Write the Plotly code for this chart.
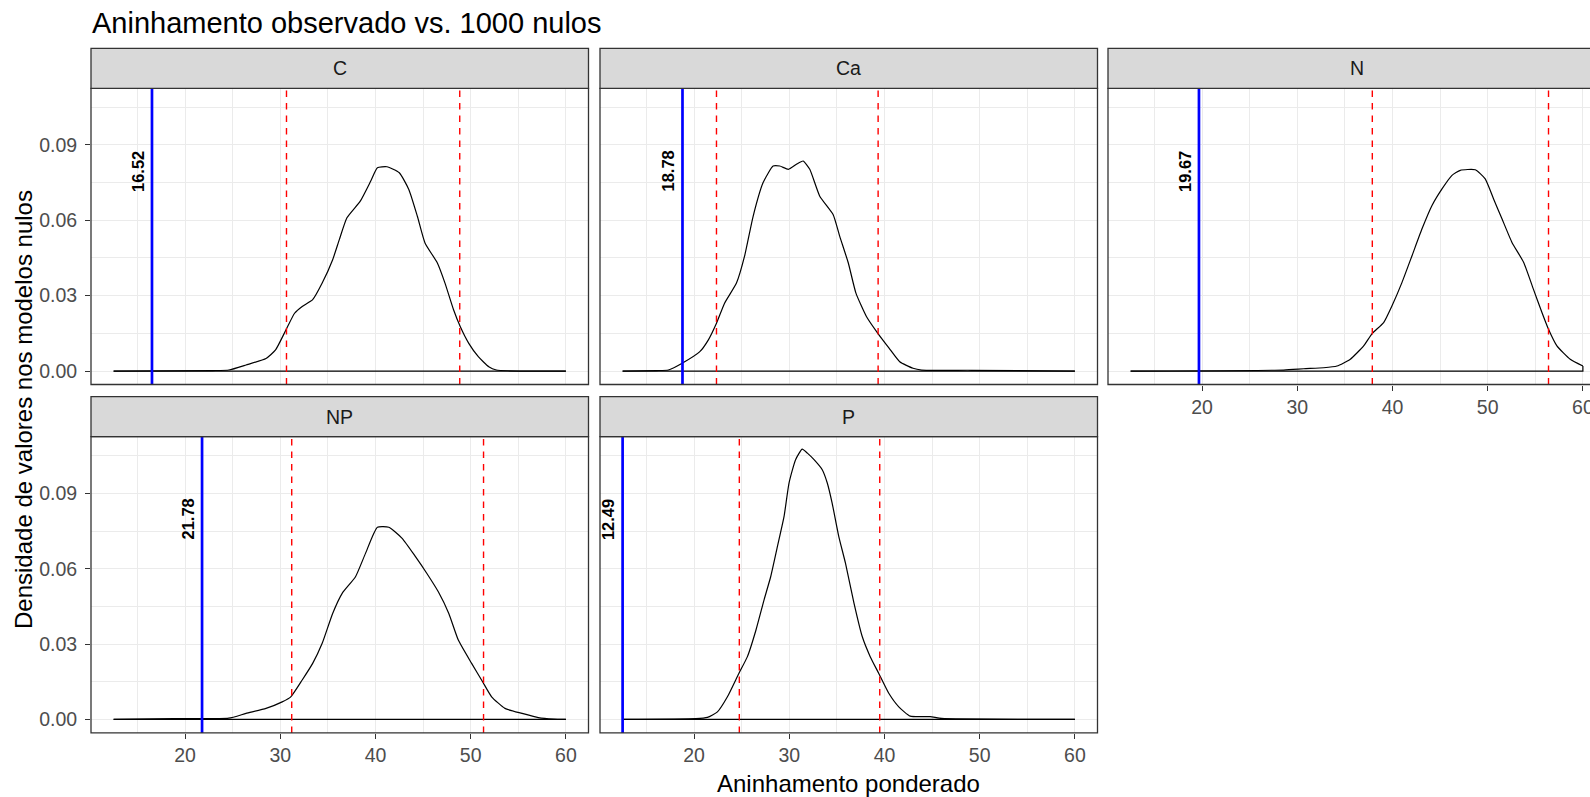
import plotly.graph_objects as go

# ---------------- data ----------------
panels = ["C", "Ca", "N", "NP", "P"]

C_x = [12.49, 22.9, 24.6, 26.4, 28.5, 29.5, 30.6, 31.5, 32.3, 33.4, 34.4, 35.5, 36.2, 37.0, 38.4, 39.5,
       40.2, 41.2, 42.5, 43.5, 44.4, 45.2, 46.5, 47.3, 48.2, 48.9, 49.8, 50.8, 51.9, 52.7, 54.0, 60.0]
C_y = [0, 0.0002, 0.0004, 0.0024, 0.005, 0.0084, 0.0164, 0.023, 0.0257, 0.0284, 0.035, 0.0443, 0.0523,
       0.061, 0.0676, 0.0756, 0.0809, 0.0813, 0.0789, 0.0723, 0.0616, 0.051, 0.043, 0.035, 0.0244, 0.0177,
       0.011, 0.0057, 0.0017, 0.0004, 0.0001, 0]

Ca_x = [12.49, 16.05, 17.3, 18.7, 20.6, 21.5, 22.35, 23.2, 24.45, 25.3, 26.2, 27.25, 28.3, 29.0, 29.9,
        30.75, 31.45, 32.15, 33.2, 34.6, 35.3, 36.2, 37.0, 38.1, 39.3, 40.5, 41.6, 43.0, 43.9, 49.1, 60.0]
Ca_y = [0, 0.0002, 0.0004, 0.003, 0.0077, 0.0124, 0.019, 0.027, 0.035, 0.0457, 0.0616, 0.075, 0.0816,
        0.0816, 0.0803, 0.0823, 0.0836, 0.0803, 0.0696, 0.0623, 0.0536, 0.043, 0.031, 0.0217, 0.015, 0.009,
        0.0037, 0.0011, 0.0004, 0.0003, 0]

N_x = [12.49, 28.57, 30.67, 32.77, 34.17, 35.57, 36.97, 37.88, 39.07, 39.95, 41.0, 42.05, 43.1, 44.15,
       45.2, 46.25, 47.12, 48.7, 49.74, 50.62, 51.5, 52.55, 53.77, 54.8, 55.7, 56.39, 57.27, 58.67, 60.0]
N_y = [0, 0.0004, 0.0009, 0.0013, 0.002, 0.0047, 0.01, 0.015, 0.0193, 0.026, 0.0353, 0.0459, 0.0566,
       0.0659, 0.0725, 0.0779, 0.0799, 0.0801, 0.0765, 0.0685, 0.0606, 0.0512, 0.0433, 0.0326, 0.0233,
       0.0166, 0.01, 0.0047, 0.002]

NP_x = [12.49, 18.8, 24.58, 26.4, 28.5, 30.2, 31.1, 32.3, 33.4, 34.4, 35.5, 36.5, 37.9, 38.95, 40.2,
        41.4, 42.8, 44.2, 45.4, 46.6, 47.7, 48.7, 50.1, 51.25, 52.2, 53.6, 55.4, 57.1, 58.7, 60.0]
NP_y = [0, 0.0003, 0.0005, 0.0024, 0.0044, 0.007, 0.009, 0.0157, 0.0223, 0.0303, 0.0422, 0.0502, 0.0568,
        0.0661, 0.0765, 0.0765, 0.0721, 0.0648, 0.0581, 0.0508, 0.0422, 0.0316, 0.0223, 0.015, 0.009,
        0.0044, 0.0024, 0.0007, 0.0001, 0]

P_x = [12.49, 20.17, 21.4, 22.45, 23.5, 24.7, 25.6, 26.5, 27.35, 28.05, 28.75, 29.45, 29.97, 30.66,
       31.36, 31.9, 32.6, 33.46, 33.99, 34.5, 35.2, 35.9, 36.8, 37.66, 38.5, 39.4, 40.45, 41.5, 42.7,
       44.8, 46.0, 60.0]
P_y = [0, 0.0003, 0.0008, 0.003, 0.009, 0.0183, 0.025, 0.0356, 0.0476, 0.0569, 0.0688, 0.0808, 0.0941,
       0.1034, 0.1076, 0.106, 0.1034, 0.0994, 0.0941, 0.0861, 0.0728, 0.0622, 0.0462, 0.033, 0.025, 0.0183,
       0.0104, 0.005, 0.0013, 0.0011, 0.0004, 0]

observed = [16.52, 18.78, 19.67, 21.78, 12.49]
null_lo = [30.65, 22.35, 37.88, 31.2, 24.75]
null_hi = [48.85, 39.33, 56.39, 51.35, 39.5]

x_ticks = [20, 30, 40, 50, 60]
y_ticks = [0.0, 0.03, 0.06, 0.09]
y_tick_text = ["0.00", "0.03", "0.06", "0.09"]

curves_x = [C_x, Ca_x, N_x, NP_x, P_x]
curves_y = [C_y, Ca_y, N_y, NP_y, P_y]

title_text = "Aninhamento observado vs. 1000 nulos"
x_title = "Aninhamento ponderado"
y_title = "Densidade de valores nos modelos nulos"

# ---------------- layout geometry (pixels) ----------------
W, H = 1590, 797
FONT = "Liberation Sans, Arial, sans-serif"
cols_px = [(91.0, 588.5), (600.0, 1097.5), (1108.0, 1605.5)]
rows_plot_px = [(88.3, 384.5), (436.7, 732.9)]
rows_strip_px = [(48.3, 88.3), (396.7, 436.7)]
pos = [(0, 0), (0, 1), (0, 2), (1, 0), (1, 1)]

XMIN, XMAX = 10.1145, 62.3755
YMIN, YMAX = -0.00536, 0.11254

fig = go.Figure()

def fx(p):
    return p / W

def fy(p):
    return 1 - p / H

for i, name in enumerate(panels):
    r, c = pos[i]
    n = i + 1
    xa = "xaxis" if n == 1 else f"xaxis{n}"
    ya = "yaxis" if n == 1 else f"yaxis{n}"
    xref = "x" if n == 1 else f"x{n}"
    yref = "y" if n == 1 else f"y{n}"
    left, right = cols_px[c]
    top, bottom = rows_plot_px[r]
    xr1 = XMAX
    dom_r = right
    if right > W:
        dom_r = W
        xr1 = XMIN + (W - left) / (right - left) * (XMAX - XMIN)
    show_x = (r == 1) or (n == 3)
    show_y = (c == 0)
    fig.layout[xa] = dict(
        domain=[fx(left), fx(dom_r)], range=[XMIN, xr1], anchor=yref,
        tickvals=x_ticks, showticklabels=show_x, ticklabeloverflow="allow",
        ticks="outside" if show_x else "", ticklen=5, tickwidth=1.3, tickcolor="#333333",
        tickfont=dict(family=FONT, size=19.5, color="#4D4D4D"),
        showgrid=True, gridcolor="#EBEBEB", gridwidth=1.3, zeroline=False, showline=False,
        minor=dict(tick0=15, dtick=10, showgrid=True, gridcolor="#EBEBEB", gridwidth=0.9),
    )
    fig.layout[ya] = dict(
        domain=[fy(bottom), fy(top)], range=[YMIN, YMAX], anchor=xref,
        tickvals=y_ticks, ticktext=y_tick_text, showticklabels=show_y,
        ticks="outside" if show_y else "", ticklen=5, tickwidth=1.3, tickcolor="#333333",
        ticklabelstandoff=4,
        tickfont=dict(family=FONT, size=19.5, color="#4D4D4D"),
        showgrid=True, gridcolor="#EBEBEB", gridwidth=1.3, zeroline=False, showline=False,
        minor=dict(tick0=0.015, dtick=0.03, showgrid=True, gridcolor="#EBEBEB", gridwidth=0.9),
    )

    xs = curves_x[i]
    ys = curves_y[i]
    # density outline (upper curve) and baseline closing the polygon
    fig.add_trace(go.Scatter(x=xs, y=ys, mode="lines", xaxis=xref, yaxis=yref,
                             line=dict(color="black", width=1.2, shape="spline", smoothing=0.5),
                             showlegend=False, hoverinfo="skip"))
    fig.add_trace(go.Scatter(x=[xs[-1], xs[-1], xs[0]], y=[ys[-1], 0, 0], mode="lines",
                             xaxis=xref, yaxis=yref, line=dict(color="black", width=1.2),
                             showlegend=False, hoverinfo="skip"))

    # null interval lines
    for v in (null_lo[i], null_hi[i]):
        fig.add_shape(type="line", xref=xref, yref=f"{yref} domain", x0=v, x1=v, y0=0, y1=1,
                      line=dict(color="#FF0000", width=1.4, dash="6.5px,6px"), layer="above")
    # observed line
    fig.add_shape(type="line", xref=xref, yref=f"{yref} domain", x0=observed[i], x1=observed[i],
                  y0=0, y1=1, line=dict(color="#0000FF", width=2.7), layer="above")
    fig.add_annotation(x=observed[i], y=0.0796, xref=xref, yref=yref, text=f"<b>{observed[i]:.2f}</b>",
                       textangle=-90, showarrow=False, xanchor="right", yanchor="middle", xshift=-3,
                       font=dict(family=FONT, size=16.5, color="black"))

    # panel border
    fig.add_shape(type="rect", xref="paper", yref="paper", x0=fx(left), x1=fx(right),
                  y0=fy(bottom), y1=fy(top), line=dict(color="#333333", width=1.3),
                  fillcolor="rgba(0,0,0,0)", layer="above")
    # strip
    s_top, s_bot = rows_strip_px[r]
    fig.add_shape(type="rect", xref="paper", yref="paper", x0=fx(left), x1=fx(right),
                  y0=fy(s_bot), y1=fy(s_top), line=dict(color="#333333", width=1.3),
                  fillcolor="#D9D9D9", layer="above")
    fig.add_annotation(x=fx((left + right) / 2), y=fy((s_top + s_bot) / 2), xref="paper", yref="paper",
                       text=name, showarrow=False, xanchor="center", yanchor="middle",
                       font=dict(family=FONT, size=19.5, color="#1A1A1A"))

# titles
fig.add_annotation(x=fx(90), y=fy(23), xref="paper", yref="paper", text=title_text, showarrow=False,
                   xanchor="left", yanchor="middle", font=dict(family=FONT, size=29, color="black"))
fig.add_annotation(x=fx(848), y=fy(783), xref="paper", yref="paper", text=x_title, showarrow=False,
                   xanchor="center", yanchor="middle", font=dict(family=FONT, size=24, color="black"))
fig.add_annotation(x=fx(23), y=fy(410), xref="paper", yref="paper", text=y_title, showarrow=False,
                   textangle=-90, xanchor="center", yanchor="middle",
                   font=dict(family=FONT, size=24, color="black"))

fig.update_layout(width=W, height=H, margin=dict(l=0, r=0, t=0, b=0, autoexpand=False),
                  paper_bgcolor="white", plot_bgcolor="white", showlegend=False,
                  font=dict(family=FONT))

fig.write_html("out.html", config={"displayModeBar": False},
               post_script="document.body.style.margin='0';document.body.style.overflow='hidden';")
